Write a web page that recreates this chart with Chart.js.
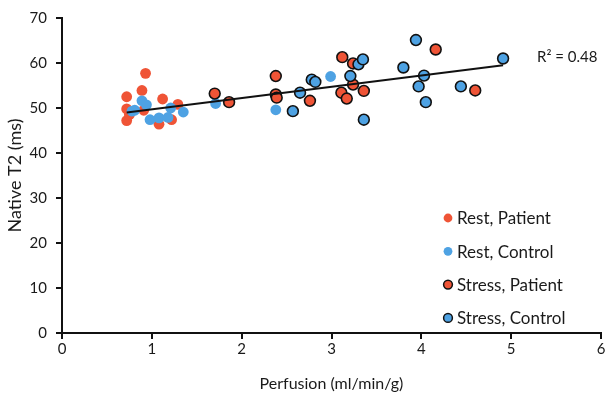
<!DOCTYPE html>
<html>
<head>
<meta charset="utf-8">
<script src="https://cdn.jsdelivr.net/npm/chart.js@4.4.1/dist/chart.umd.min.js"></script>
<style>
  html, body { margin: 0; padding: 0; background: #fff; }
  #wrap { width: 608px; height: 397px; position: relative; }
</style>
</head>
<body>
<div id="wrap"><canvas id="chart"></canvas></div>
<script>
// Native T2 vs perfusion scatter

const restPatientX = [0.72, 0.72, 0.72, 0.75, 0.89, 0.91, 0.93, 1.08, 1.12, 1.22, 1.29];
const restPatientY = [52.5, 49.8, 47.2, 48.5, 53.9, 49.5, 57.7, 46.4, 52.0, 47.4, 50.8];

const restControlX = [0.78, 0.81, 0.89, 0.94, 0.98, 1.08, 1.18, 1.21, 1.35, 1.71, 2.38, 2.99];
const restControlY = [49.3, 49.5, 51.6, 50.7, 47.4, 47.8, 47.9, 50.0, 49.1, 51.0, 49.6, 57.0];

const stressPatientX = [1.70, 1.86, 2.38, 2.38, 2.39, 2.76, 3.11, 3.12, 3.17, 3.24, 3.24, 3.36, 4.16, 4.60];
const stressPatientY = [53.2, 51.3, 57.1, 53.0, 52.3, 51.6, 53.4, 61.3, 52.1, 59.9, 55.2, 53.8, 63.0, 53.9];

const stressControlX = [2.57, 2.65, 2.78, 2.82, 3.21, 3.30, 3.35, 3.36, 3.80, 3.94, 3.97, 4.03, 4.05, 4.44, 4.91];
const stressControlY = [49.3, 53.4, 56.3, 55.8, 57.1, 59.7, 60.8, 47.4, 59.0, 65.1, 54.8, 57.2, 51.3, 54.8, 61.0];

const trendX = [0.72, 4.91];
const trendY = [49.0, 59.5];

const seriesLabels = ['Rest, Patient', 'Rest, Control', 'Stress, Patient', 'Stress, Control'];
const rSquaredLabel = 'R\u00B2 = 0.48';

const ORANGE = '#ef5436';
const BLUE = '#4ea2e3';
const INK = '#1a1a1a';
const FONT = 'Lato, "Open Sans", sans-serif';

function pts(xs, ys) {
    return xs.map((x, i) => ({ x: x, y: ys[i] }));
}

// custom legend + R² text, drawn from the dataset styles
const extras = {
    id: 'extras',
    afterDraw(chart) {
        const ctx = chart.ctx;
        ctx.save();
        ctx.textBaseline = 'middle';
        ctx.fillStyle = INK;
        ctx.font = '15px ' + FONT;
        ctx.fillText(rSquaredLabel, 537, 57);

        ctx.font = '17px ' + FONT;
        const order = [4, 3, 2, 1]; // dataset index for each legend row
        order.forEach((di, row) => {
            const ds = chart.data.datasets[di];
            const y = 218 + row * 33.3;
            ctx.beginPath();
            ctx.arc(448, y, 4.4, 0, Math.PI * 2);
            ctx.fillStyle = ds.backgroundColor;
            ctx.fill();
            if (ds.pointBorderWidth > 0) {
                ctx.lineWidth = 1.5;
                ctx.strokeStyle = '#111';
                ctx.stroke();
            }
            ctx.fillStyle = INK;
            ctx.fillText(ds.label, 457, y + 1);
        });
        ctx.restore();
    }
};

const bordered = { pointRadius: 5.4, pointBorderWidth: 1.6, pointBorderColor: '#111' };
const plain = { pointRadius: 5.4, pointBorderWidth: 0 };

new Chart(document.getElementById('chart'), {
    type: 'scatter',
    data: {
        datasets: [
            { label: 'trend', data: pts(trendX, trendY), showLine: true, borderColor: '#111', borderWidth: 2, pointRadius: 0 },
            Object.assign({ label: seriesLabels[3], data: pts(stressControlX, stressControlY), backgroundColor: BLUE, pointBackgroundColor: BLUE }, bordered),
            Object.assign({ label: seriesLabels[2], data: pts(stressPatientX, stressPatientY), backgroundColor: ORANGE, pointBackgroundColor: ORANGE }, bordered),
            Object.assign({ label: seriesLabels[1], data: pts(restControlX, restControlY), backgroundColor: BLUE, pointBackgroundColor: BLUE }, plain),
            Object.assign({ label: seriesLabels[0], data: pts(restPatientX, restPatientY), backgroundColor: ORANGE, pointBackgroundColor: ORANGE }, plain)
        ]
    },
    options: {
        responsive: true,
        maintainAspectRatio: false,
        animation: false,
        layout: { padding: { top: 8, right: 6, left: 0, bottom: 0 } },
        plugins: { legend: { display: false }, tooltip: { enabled: false } },
        scales: {
            x: {
                type: 'linear', min: 0, max: 6,
                ticks: { stepSize: 1, color: INK, font: { family: FONT, size: 15 }, padding: 1 },
                grid: { drawOnChartArea: false, drawTicks: true, tickLength: 6, color: '#111', lineWidth: 2 },
                border: { display: true, color: '#111', width: 2 },
                title: { display: true, text: 'Perfusion (ml/min/g)', color: INK, font: { family: FONT, size: 16 }, padding: { top: 8 } },
                afterFit(scale) { scale.height = 64; }
            },
            y: {
                min: 0, max: 70,
                ticks: { stepSize: 10, color: INK, font: { family: FONT, size: 15 }, padding: 9 },
                grid: { drawOnChartArea: false, drawTicks: true, tickLength: 6, color: '#111', lineWidth: 2 },
                border: { display: true, color: '#111', width: 2 },
                title: { display: true, text: 'Native T2 (ms)', color: INK, font: { family: FONT, size: 18 }, padding: { bottom: 2 } },
                afterFit(scale) { scale.width = 62; }
            }
        }
    },
    plugins: [extras]
});
</script>
</body>
</html>
